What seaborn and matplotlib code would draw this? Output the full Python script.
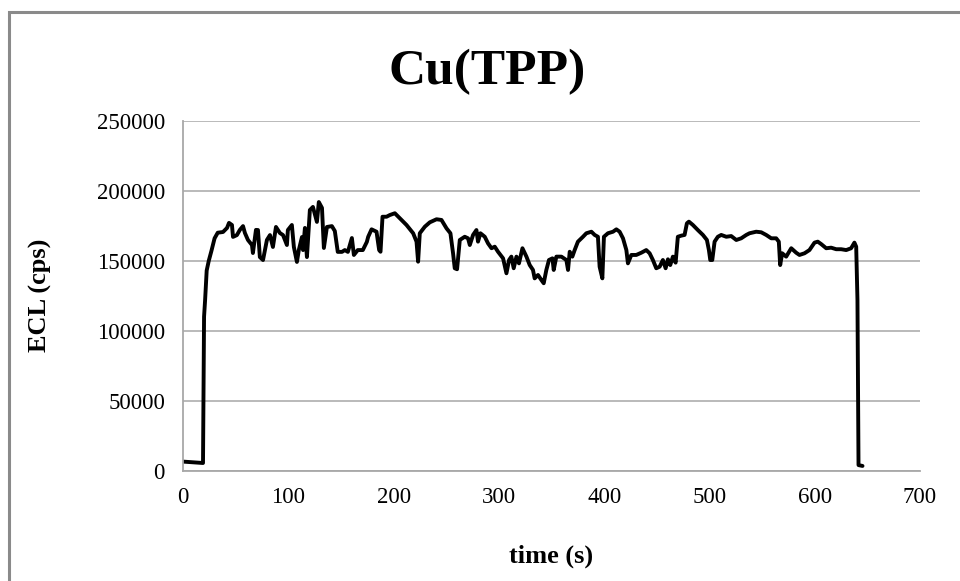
import matplotlib
matplotlib.use("Agg")
import matplotlib.pyplot as plt
import seaborn as sns
import pandas as pd
from matplotlib.patches import Rectangle

# ---- data ----
time_s = [0, 10, 19, 19.5, 20, 21, 22.5, 24.5, 27, 30, 33, 38, 41.8, 43.7, 46.5, 47.5,
          51.2, 54, 57, 58.8, 61.7, 65.5, 66.4, 69.3, 71.2, 73, 76, 79.7, 82.6, 85.4,
          88.3, 92, 95, 98.7, 99.6, 103.4, 105.3, 108.2, 110, 113, 114, 115.8, 117.7,
          120.5, 123.4, 127.2, 129, 132, 133.8, 136.7, 141.4, 144.2, 147, 151, 153.7,
          156.6, 160.4, 162.3, 166, 170.8, 174.6, 175.9, 179.1, 183.8, 186.3, 187.6,
          189.5, 193.3, 196.4, 201.2, 205.9, 212.3, 218.6, 221.8, 223.3, 224.9, 229.7,
          234.4, 240.8, 245.5, 250.3, 254, 256.5, 258.1, 260.3, 262.9, 267.6, 270.7,
          272.4, 275.5, 278.7, 280.2, 282.5, 286.6, 289.7, 293, 296.1, 299.2, 304,
          307.2, 309.7, 311.9, 314.1, 316.7, 319.1, 322.4, 326.2, 329.3, 332.4, 334,
          337.2, 340.4, 342.6, 345.1, 347.6, 350.9, 352.1, 354.6, 359.4, 364.1, 365.7,
          367.3, 369.8, 372, 375.1, 379.9, 383.1, 387.9, 391, 394.1, 395.7, 398.3,
          399.8, 403.6, 408.4, 411.6, 414.7, 417.9, 421.1, 422.6, 425.8, 430.5, 435.3,
          440, 443.2, 446.3, 449.5, 452.7, 455.8, 458.4, 460.6, 462.8, 465.3, 467.9,
          470, 473.3, 476.4, 478.6, 480.5, 484.3, 489, 493.8, 497.6, 499.5, 500.8,
          502.7, 504.9, 508, 511.2, 516, 520.7, 525.5, 530.2, 535, 538.1, 544.4, 549.2,
          553.9, 558.7, 563.4, 565.9, 567.2, 569.1, 572.9, 577.7, 582.4, 585.5, 590.3,
          595, 599.8, 602.9, 606.1, 610.9, 615.6, 620.4, 625.1, 629.9, 634.6, 637.7,
          639.4, 640.6, 641.6, 645.4]

ecl_cps = [6500, 6000, 5500, 60000, 110000, 122000, 143000, 150000, 157000, 166000,
           170000, 170500, 173400, 177000, 175500, 167000, 168300, 172000, 174700,
           169800, 164800, 161200, 155500, 172000, 171900, 152600, 150500, 164800,
           168300, 159800, 174100, 169800, 168300, 161200, 171900, 175500, 159800,
           149100, 157600, 166900, 157600, 173400, 152600, 186200, 188400, 177700,
           191900, 187700, 159100, 174100, 174700, 171200, 156300, 156300, 157600,
           156300, 166200, 154100, 157600, 157600, 163400, 167100, 172400, 170700,
           157600, 156400, 181400, 181400, 182600, 183900, 180300, 175500, 169600,
           163600, 149300, 169600, 174300, 177400, 179600, 179100, 173100, 169600,
           155300, 144600, 143900, 164800, 167100, 166000, 161200, 168400, 171900,
           163600, 169600, 167100, 162400, 158900, 160000, 156400, 151700, 141000,
           150500, 152900, 144600, 152900, 148100, 158900, 152900, 146900, 143400,
           137400, 139800, 136200, 133900, 143400, 150500, 151700, 143400, 152900,
           152900, 150500, 143400, 156400, 152900, 157600, 163600, 167100, 169600,
           170700, 168400, 167100, 145700, 137400, 167100, 169600, 170700, 172400,
           170700, 166000, 157600, 148100, 154100, 154100, 155700, 157600, 155300,
           150500, 144600, 145700, 150500, 144600, 151000, 146900, 152900, 148600,
           167100, 167900, 168400, 176700, 177900, 175500, 171900, 168400, 164800,
           157600, 150500, 150500, 163600, 167100, 168400, 167100, 167600, 164800,
           166000, 168400, 169600, 170700, 170300, 168400, 166000, 166000, 163600,
           146900, 155300, 152900, 158900, 155700, 154100, 155300, 157600, 162900,
           163600, 161900, 158900, 159300, 158200, 158200, 157600, 158900, 162900,
           160000, 121900, 4000, 3400]

x_ticks = [0, 100, 200, 300, 400, 500, 600, 700]
y_ticks = [0, 50000, 100000, 150000, 200000, 250000]
title = "Cu(TPP)"
x_label = "time (s)"
y_label = "ECL (cps)"

df = pd.DataFrame({"time": time_s, "ecl": ecl_cps})

sns.set_theme(style="white")
plt.rcParams["font.family"] = ["Liberation Serif", "DejaVu Serif"]
plt.rcParams["text.color"] = "black"
plt.rcParams["axes.labelcolor"] = "black"

fig = plt.figure(figsize=(9.6, 5.81), dpi=100)
ax = fig.add_axes([183 / 960, 1 - 470.7 / 581, (920 - 183) / 960, 350 / 581])

sns.lineplot(data=df, x="time", y="ecl", ax=ax, color="black", linewidth=2.8,
             estimator=None, sort=False)

ax.set_xlim(0, 700)
ax.set_ylim(0, 250000)
ax.set_xticks(x_ticks)
ax.set_yticks(y_ticks)
ax.set_xticklabels([str(v) for v in x_ticks], fontsize=16.5)
ax.set_yticklabels([str(v) for v in y_ticks], fontsize=16.5)
ax.tick_params(axis="both", length=0, colors="black")
ax.tick_params(axis="y", pad=13)
ax.tick_params(axis="x", pad=12)

ax.grid(axis="y", color="#b4b4b4", linewidth=1.3)
ax.grid(axis="x", visible=False)
ax.set_axisbelow(True)
for side in ["top", "right"]:
    ax.spines[side].set_visible(False)
for side in ["left", "bottom"]:
    ax.spines[side].set_color("#a8a8a8")
    ax.spines[side].set_linewidth(1.3)

ax.set_xlabel(x_label, fontsize=19, fontweight="bold", labelpad=26, color="black")
ax.set_ylabel(y_label, fontsize=19, fontweight="bold", labelpad=32, color="black")

fig.text(487 / 960, 1 - 72 / 581, title, ha="center", va="center",
         fontsize=37, fontweight="bold", color="black")

# outer chart frame (gray, extends beyond right/bottom edges)
fig.patches.append(Rectangle((8.5 / 960, -0.05), 1.2, 1 - 12.5 / 581 + 0.05,
                             transform=fig.transFigure, fill=False,
                             edgecolor="#8a8a8a", linewidth=2.2))

fig.savefig("out.png", dpi=100, facecolor="white")
